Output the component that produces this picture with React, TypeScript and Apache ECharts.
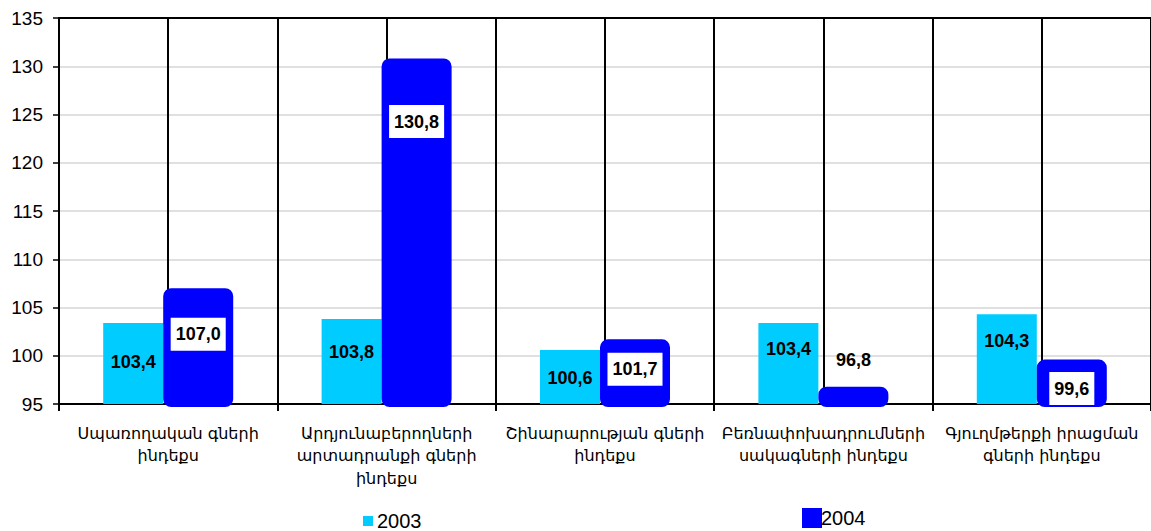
import React, { useEffect, useRef } from 'react';
import * as echarts from 'echarts';

const categories = [
  'Սպառողական գների\nինդեքս',
  'Արդյունաբերողների\nարտադրանքի գների\nինդեքս',
  'Շինարարության գների\nինդեքս',
  'Բեռնափոխադրումների\nսակագների ինդեքս',
  'Գյուղմթերքի իրացման\nգների ինդեքս',
];
const seriesNames = ['2003', '2004'];
const values2003 = [103.4, 103.8, 100.6, 103.4, 104.3];
const values2004 = [107.0, 130.8, 101.7, 96.8, 99.6];
const yMin = 95;
const yMax = 135;
const yStep = 5;

// label vertical placement (px from bar top), styling only
const labelDy2003 = [39, 33, 28, 26, 27];
const labelDy2004 = [46, 63, 30, -27, 29];

const fmt = (p: any) => Number(p.value).toFixed(1).replace('.', ',');

export default function App() {
  const ref = useRef<HTMLDivElement>(null);
  useEffect(() => {
    if (!ref.current) return;
    const chart = echarts.init(ref.current, null, { renderer: 'svg' });
    const labelBase = {
      show: true,
      color: '#000',
      fontWeight: 'bold',
      fontSize: 18,
      fontFamily: 'Liberation Sans, Arial, sans-serif',
      align: 'center',
      verticalAlign: 'middle',
      formatter: fmt,
    };
    chart.setOption({
      animation: false,
      textStyle: { fontFamily: 'Liberation Sans, Arial, sans-serif' },
      grid: { left: 59, top: 18, width: 1095, bottom: 127 },
      legend: [
        {
          data: [seriesNames[0]],
          left: 363,
          top: 511,
          padding: 0,
          itemWidth: 10,
          itemHeight: 10,
          icon: 'rect',
          itemStyle: { borderWidth: 0 },
          textStyle: { fontSize: 20, color: '#000', padding: [0, 0, 0, -1] },
        },
        {
          data: [seriesNames[1]],
          left: 802,
          top: 508,
          padding: 0,
          itemWidth: 20,
          itemHeight: 20,
          icon: 'rect',
          itemStyle: { borderWidth: 0 },
          textStyle: { fontSize: 20, color: '#000', padding: [0, 0, 0, -6] },
        },
      ],
      xAxis: [
        {
          type: 'category',
          data: categories,
          boundaryGap: true,
          axisLine: { show: true, lineStyle: { color: '#000', width: 2 } },
          axisTick: { show: true, length: 7, lineStyle: { color: '#000', width: 2 } },
          axisLabel: {
            interval: 0,
            color: '#000',
            fontSize: 16,
            lineHeight: 22.5,
            margin: 18,
            fontFamily: 'DejaVu Sans, sans-serif',
          },
          splitLine: { show: false },
        },
        {
          type: 'value',
          min: 0,
          max: 5,
          interval: 0.5,
          position: 'top',
          axisLine: { show: true, onZero: false, lineStyle: { color: '#000', width: 2 } },
          axisTick: { show: false },
          axisLabel: { show: false },
          splitLine: { show: true, lineStyle: { color: '#000', width: 2 } },
        },
      ],
      yAxis: {
        type: 'value',
        min: yMin,
        max: yMax,
        interval: yStep,
        axisLine: { show: true, lineStyle: { color: '#000', width: 2 } },
        axisTick: { show: true, length: 6, lineStyle: { color: '#000', width: 1.5 } },
        axisLabel: { color: '#000', fontSize: 19, margin: 16 },
        splitLine: { show: true, lineStyle: { color: '#d6d6d6', width: 1.5 } },
      },
      series: [
        {
          name: seriesNames[0],
          type: 'bar',
          xAxisIndex: 0,
          barWidth: 60,
          barGap: '0%',
          itemStyle: { color: '#00CCFF' },
          data: values2003.map((v, i) => ({
            value: v,
            label: { ...labelBase, position: ['50%', labelDy2003[i]] },
          })),
        },
        {
          name: seriesNames[1],
          type: 'bar',
          xAxisIndex: 0,
          barWidth: 70,
          barGap: '0%',
          itemStyle: { color: '#0000FF', borderColor: '#0000FF', borderWidth: 6, borderRadius: 5 },
          data: values2004.map((v, i) => ({
            value: v,
            label: {
              ...labelBase,
              position: ['50%', labelDy2004[i]],
              backgroundColor: labelDy2004[i] < 0 ? 'transparent' : '#fff',
              padding: labelDy2004[i] < 0 ? 0 : [8, 5, 7, 5],
            },
          })),
        },
      ],
    });
    return () => chart.dispose();
  }, []);
  return (
    <div
      ref={ref}
      style={{ position: 'fixed', left: 0, top: 0, width: 1151, height: 531, background: '#fff' }}
    />
  );
}
